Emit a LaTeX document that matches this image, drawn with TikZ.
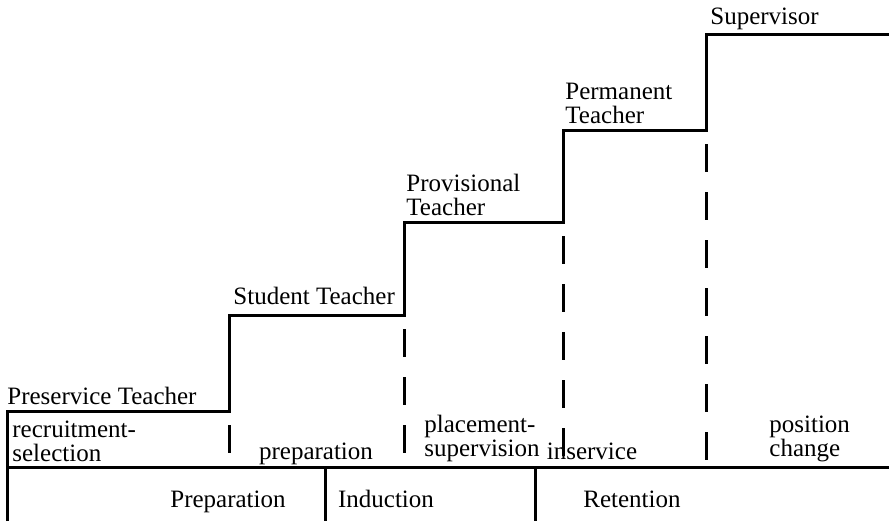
\documentclass[tikz,border=0pt]{standalone}
\usepackage{fontspec}
\setmainfont{Liberation Serif}
\usetikzlibrary{positioning}

\tikzset{
  stair/.style={line width=1.5pt, line join=miter},
  divider/.style={line width=1.5pt},
  stepdash/.style={line width=1.5pt, dash pattern=on 14pt off 10pt, dash phase=17pt},
  rank/.style={inner sep=0pt, align=left, font=\fontsize{12.5}{12}\selectfont},
  phase/.style={inner sep=0pt, align=left, font=\fontsize{12.5}{12}\selectfont},
  stage/.style={inner sep=0pt, font=\fontsize{12.5}{12}\selectfont}
}

\begin{document}
\begin{tikzpicture}[x=0.5pt,y=-0.5pt]
\useasboundingbox (0,0) rectangle (889,521);

% corners of the staircase
\coordinate (s0) at (7,521);
\coordinate (s1) at (7,411);
\coordinate (s2) at (229,411);
\coordinate (s3) at (229,315);
\coordinate (s4) at (404,315);
\coordinate (s5) at (404,222);
\coordinate (s6) at (563,222);
\coordinate (s7) at (563,130);
\coordinate (s8) at (706,130);
\coordinate (s9) at (706,34);
\coordinate (s10) at (889,34);
\draw[stair] (s0) -- (s1) -- (s2) -- (s3) -- (s4) -- (s5) -- (s6) -- (s7) -- (s8) -- (s9) -- (s10);

% base line and stage boxes
\coordinate (bl) at (7,467);
\coordinate (br) at (889,467);
\draw[divider] (bl) -- (br);
\coordinate (b1t) at (325,467);
\coordinate (b1b) at (325,521);
\coordinate (b2t) at (535,467);
\coordinate (b2b) at (535,521);
\draw[divider] (b1t) -- (b1b);
\draw[divider] (b2t) -- (b2b);

% dashed risers
\coordinate (d1) at (229,467);
\coordinate (d2) at (404,467);
\coordinate (d3) at (563,467);
\coordinate (d4) at (706,467);
\draw[stepdash] (s2) -- (d1);
\draw[stepdash] (s4) -- (d2);
\draw[stepdash] (s6) -- (d3);
\draw[stepdash] (s8) -- (d4);

% ranks on the steps
\node[rank, anchor=base west] (pre) at (7,404) {Preservice Teacher};
\node[rank, anchor=base west] (stu) at (233,304) {Student Teacher};
\node[rank, anchor=south west] (prov) at (406,216) {Provisional\\Teacher};
\node[rank, anchor=south west] (perm) at (565,124) {Permanent\\Teacher};
\node[rank, anchor=base west] (sup) at (710,24) {Supervisor};

% phases
\node[phase, anchor=south west] (rec) at (12,462) {recruitment-\\selection};
\node[phase, anchor=base] (prep) at (316,459) {preparation};
\node[phase, anchor=south] (plac) at (482,462) {placement-\\supervision};
\node[phase, anchor=base] (ins) at (592,459) {inservice};
\node[phase, anchor=south west] (pos) at (769,462) {position\\change};

% stages
\node[stage, anchor=base] (st1) at (228,507) {Preparation};
\node[stage, anchor=base] (st2) at (386,507) {Induction};
\node[stage, anchor=base] (st3) at (632,507) {Retention};
\end{tikzpicture}
\end{document}
